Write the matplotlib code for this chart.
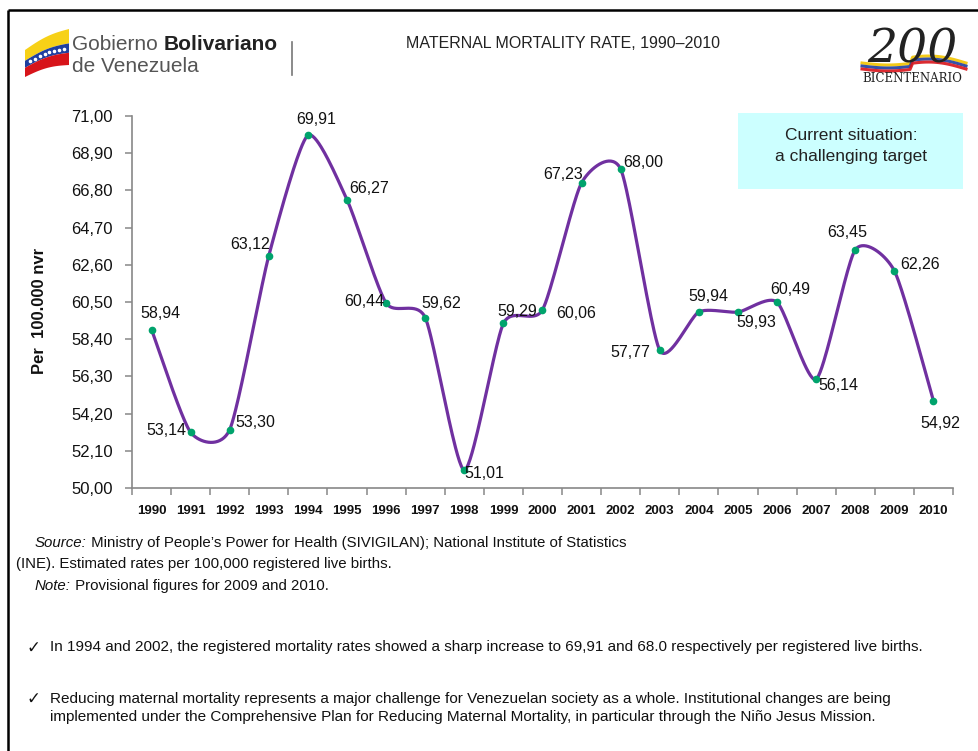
import numpy as np
import matplotlib
matplotlib.use("Agg")
import matplotlib.pyplot as plt
from matplotlib.patches import Rectangle, Polygon

# ---------------- data ----------------
years = ["1990", "1991", "1992", "1993", "1994", "1995", "1996", "1997", "1998", "1999", "2000",
         "2001", "2002", "2003", "2004", "2005", "2006", "2007", "2008", "2009", "2010"]
rates = [58.94, 53.14, 53.30, 63.12, 69.91, 66.27, 60.44, 59.62, 51.01, 59.29, 60.06,
         67.23, 68.00, 57.77, 59.94, 59.93, 60.49, 56.14, 63.45, 62.26, 54.92]
y_ticks = [50.00, 52.10, 54.20, 56.30, 58.40, 60.50, 62.60, 64.70, 66.80, 68.90, 71.00]

# label offsets in pixels (layout only)
label_offsets = [(9, 16), (-24, 2), (26, 7), (-19, 11), (8, 16), (22, 11), (-22, 2), (16, 14),
                 (20, -3), (14, 12), (34, -4), (-18, 8), (23, 7), (-29, -2), (9, 15), (18, -10),
                 (13, 13), (22, -6), (-8, 17), (26, 6), (7, -23)]

FONT = ["Liberation Sans", "DejaVu Sans"]

W, H = 979, 751
fig = plt.figure(figsize=(W / 100, H / 100), dpi=100)
fig.patch.set_facecolor("white")

# overlay axes in pixel coordinates for decoration
ov = fig.add_axes([0, 0, 1, 1], zorder=0)
ov.set_xlim(0, W)
ov.set_ylim(H, 0)
ov.axis("off")

# frame
ov.plot([8, W], [10, 10], color="black", lw=1.8, solid_capstyle="butt")
ov.plot([8, 8], [10, H], color="black", lw=1.8, solid_capstyle="butt")

# ---- left logo: flag ----
xs = np.linspace(25, 69, 40)
frac = (xs - 25) / 44
top = 50 - frac * 21 - 3 * np.sin(frac * np.pi)
hgt = 27 + frac * 9
def band(t0, t1, color):
    a = top + hgt * t0
    b = top + hgt * t1
    pts = list(zip(xs, a)) + list(zip(xs[::-1], b[::-1]))
    ov.add_patch(Polygon(pts, closed=True, color=color, lw=0))
band(0.0, 0.40, "#F7D117")
band(0.40, 0.66, "#1F3FA0")
band(0.66, 1.0, "#D7141A")
sx = np.linspace(30, 64, 8)
sy = np.interp(sx, xs, top + hgt * 0.53)
ov.scatter(sx, sy, s=2.5, color="white", zorder=3)

t1 = ov.text(72, 44, "Gobierno ", fontsize=15, family=FONT, color="#555555", ha="left", va="center")
ov.annotate("Bolivariano", xy=(1, 0.5), xycoords=t1, fontsize=15, family=FONT, color="#222222",
            weight="bold", ha="left", va="center")
ov.text(72, 66, "de Venezuela", fontsize=15, family=FONT, color="#555555", ha="left", va="center")
ov.plot([292, 292], [42, 75], color="#777777", lw=1.2)

# ---- right logo: 200 Bicentenario ----
ov.text(912, 50, "200", fontsize=34, family="DejaVu Serif", style="italic", color="#222222",
        ha="center", va="center")
cx = np.linspace(862, 966, 40)
for off, col in [(0, "#F2C500"), (3, "#1F3FA0"), (6, "#D7141A")]:
    cy = 63 + off - 6 * np.sin((cx - 862) / 104 * np.pi) * (cx > 910) + 2 * np.sin((cx - 862) / 104 * 2 * np.pi)
    ov.plot(cx, cy, color=col, lw=2.2, alpha=0.9)
ov.text(912, 79, "BICENTENARIO", fontsize=8.5, family="DejaVu Serif", color="#222222",
        ha="center", va="center")

# title
ov.text(563, 44, "MATERNAL MORTALITY RATE, 1990\u20132010", fontsize=11.5, family=FONT,
        color="#222222", ha="center", va="center")

# cyan box
ov.add_patch(Rectangle((738, 113), 225, 76, color="#CCFFFF", lw=0))
ov.text(851, 146, "Current situation:\na challenging target", fontsize=12.5, family=FONT,
        color="#222222", ha="center", va="center", linespacing=1.55)

# y label
ov.text(40, 311, "Per  100.000 nvr", fontsize=12, family=FONT, weight="bold", rotation=90,
        ha="center", va="center", color="#111111")

# source / notes
def runs(x, y, parts, size=10.8):
    prev = None
    for txt, style in parts:
        if prev is None:
            prev = ov.text(x, y, txt, fontsize=size, family=FONT, style=style,
                           ha="left", va="bottom", color="#111111")
        else:
            prev = ov.annotate(txt, xy=(1, 0), xycoords=prev, fontsize=size, family=FONT,
                               style=style, ha="left", va="bottom", color="#111111")

runs(35, 550, [("Source:", "italic"),
               (" Ministry of People\u2019s Power for Health (SIVIGILAN); National Institute of Statistics", "normal")])
ov.text(16, 571, "(INE). Estimated rates per 100,000 registered live births.", fontsize=10.8,
        family=FONT, ha="left", va="bottom", color="#111111")
runs(35, 593, [("Note:", "italic"), (" Provisional figures for 2009 and 2010.", "normal")])

ov.text(27, 648, "\u2713", fontsize=12, family="DejaVu Sans", ha="left", va="center", color="#111111")
ov.text(50, 647, "In 1994 and 2002, the registered mortality rates showed a sharp increase to 69,91 "
        "and 68.0 respectively per registered live births.", fontsize=11, family=FONT,
        ha="left", va="center", color="#111111")
ov.text(27, 699, "\u2713", fontsize=12, family="DejaVu Sans", ha="left", va="center", color="#111111")
ov.text(50, 708, "Reducing maternal mortality represents a major challenge for Venezuelan society as a "
        "whole. Institutional changes are being\nimplemented under the Comprehensive Plan for Reducing "
        "Maternal Mortality, in particular through the Ni\u00f1o Jesus Mission.", fontsize=11,
        family=FONT, ha="left", va="center", color="#111111", linespacing=1.4)

# ---------------- chart ----------------
ax = fig.add_axes([132 / W, 263 / H, 821 / W, 372 / H], zorder=2)
ax.patch.set_alpha(0)
x = np.arange(len(rates), dtype=float)
y = np.array(rates, dtype=float)

# Excel-like smoothed curve (Bezier with reduced Catmull-Rom tangents)
K = 0.11
P = np.column_stack([x, y])
Pext = np.vstack([P[0], P, P[-1]])
t = np.linspace(0, 1, 40)[:, None]
curve = []
for i in range(len(P) - 1):
    p0, p1, p2, p3 = Pext[i], Pext[i + 1], Pext[i + 2], Pext[i + 3]
    c1 = p1 + (p2 - p0) * K
    c2 = p2 - (p3 - p1) * K
    seg = ((1 - t) ** 3) * p1 + 3 * ((1 - t) ** 2) * t * c1 + 3 * (1 - t) * t ** 2 * c2 + t ** 3 * p2
    curve.append(seg if i == 0 else seg[1:])
curve = np.vstack(curve)
ax.plot(curve[:, 0], curve[:, 1], color="#7030A0", lw=2.3, zorder=3, solid_capstyle="round")
ax.plot(x, y, ls="none", marker="o", ms=4.5, color="#00A36C", mec="#00A36C", zorder=4)

for xi, yi, (dx, dy) in zip(x, y, label_offsets):
    ax.annotate(f"{yi:.2f}".replace(".", ","), (xi, yi), xytext=(dx, dy), textcoords="offset pixels",
                ha="center", va="center", fontsize=11.5, family=FONT, color="#111111", zorder=5)

ax.set_xlim(-0.5, len(rates) - 0.5)
ax.set_ylim(y_ticks[0], y_ticks[-1])
ax.set_yticks(y_ticks)
ax.set_yticklabels([f"{v:.2f}".replace(".", ",") for v in y_ticks], family=FONT, fontsize=12,
                   color="#111111")
ax.set_xticks(np.arange(-0.5, len(rates), 1.0))
ax.set_xticklabels([])
ax.set_xticks(x, minor=True)
ax.set_xticklabels(years, minor=True, family=FONT, fontsize=9.5, weight="bold", color="#111111")
ax.tick_params(axis="x", which="major", length=5, width=1.1, color="#888888", direction="out")
ax.tick_params(axis="x", which="minor", length=0, pad=12)
ax.tick_params(axis="y", length=5, width=1.1, color="#888888", direction="out", pad=9)
for s in ["top", "right"]:
    ax.spines[s].set_visible(False)
for s in ["left", "bottom"]:
    ax.spines[s].set_color("#888888")
    ax.spines[s].set_linewidth(1.2)

fig.savefig("out.png", dpi=100)
